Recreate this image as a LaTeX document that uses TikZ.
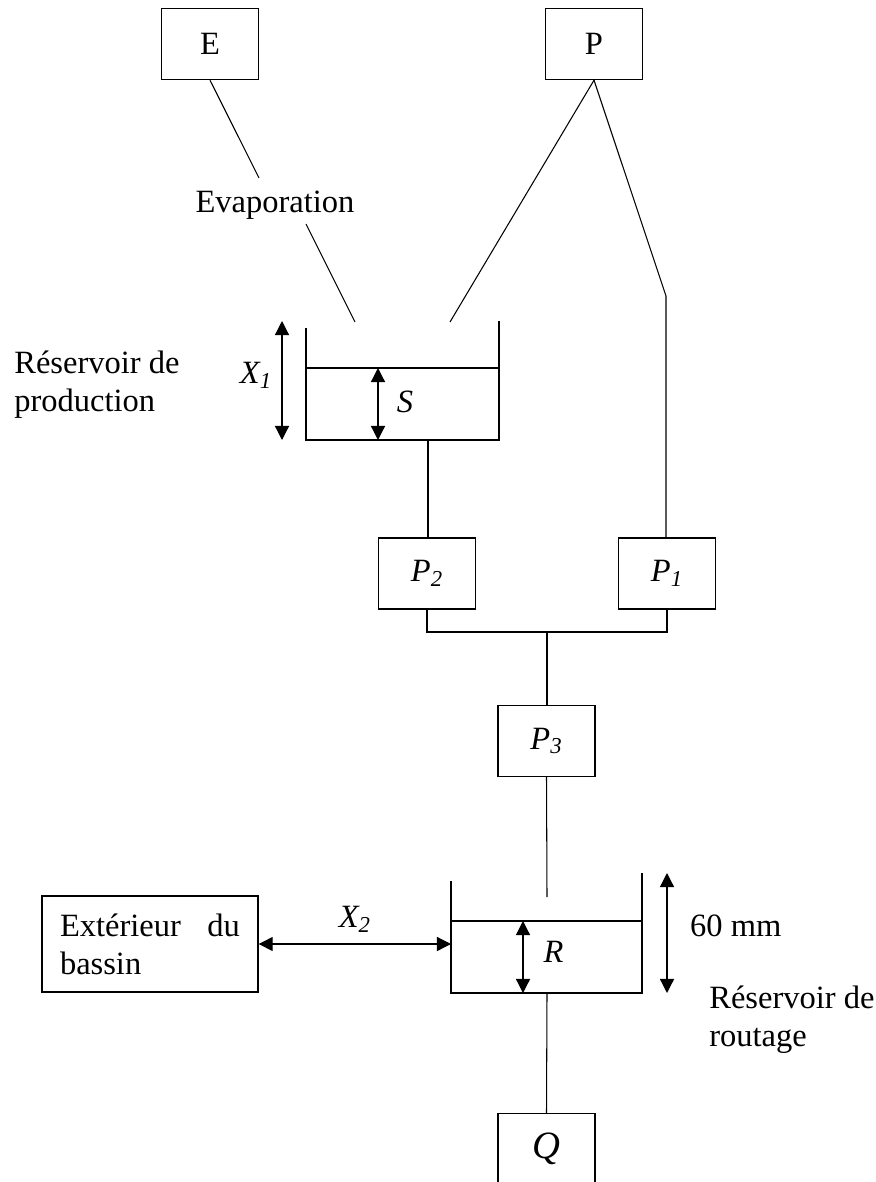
\documentclass[tikz,border=0pt]{standalone}
\usepackage{fontspec}
\setmainfont{Liberation Serif}
\usetikzlibrary{positioning}
\usetikzlibrary{arrows.meta}

\begin{document}
\begin{tikzpicture}[x=0.02cm,y=-0.02cm,
  box/.style={draw,line width=0.8pt,inner sep=0pt,minimum width=1.94cm,minimum height=1.42cm,font=\fontsize{18.5}{18}\selectfont},
  lbl/.style={font=\fontsize{18.5}{21.5}\selectfont},
  var/.style={font=\fontsize{18.5}{18}\selectfont\itshape},
  wall/.style={line width=0.7pt},
  pipe/.style={line width=0.6pt},
  dim/.style={{Triangle[width=8pt,length=8pt]}-{Triangle[width=8pt,length=8pt]},line width=0.7pt}]
\useasboundingbox (0,0) rectangle (875,1182);

% inputs
\node[box] (E) at (210,44) {E};
\node[box] (P) at (594,44) {P};
\node[lbl] (evap) at (275,205) {Evaporation};

% production reservoir
\coordinate (s-lt) at (306,328);
\coordinate (s-lb) at (306,440);
\coordinate (s-rb) at (499,440);
\coordinate (s-rt) at (499,321);
\coordinate (s-wl) at (306,368);
\coordinate (s-wr) at (499,368);
\coordinate (s-out) at (428,440);
\draw[wall] (s-lt) -- (s-lb) -- (s-rb) -- (s-rt);
\draw[wall] (s-wl) -- (s-wr);
\node[lbl,anchor=west,align=left,inner sep=0pt] (resprod) at (14,385) {Réservoir de\\production};

\coordinate (x1-t) at (282,321);
\coordinate (x1-b) at (282,440);
\draw[dim] (x1-t) -- (x1-b) node[midway,var,left=2pt,yshift=0.1cm] {X\textsubscript{1}};
\coordinate (s-t) at (378,368);
\coordinate (s-b) at (378,440);
\draw[dim] (s-t) -- (s-b) node[midway,var,right=7pt,yshift=0.05cm] {S};

% flows from E and P
\coordinate (ev1) at (259,178);
\coordinate (ev2) at (306,224);
\coordinate (ev3) at (355,322);
\coordinate (pr1) at (450,322);
\coordinate (pr2) at (666,296);
\draw[pipe] (E.south) -- (ev1);
\draw[pipe] (ev2) -- (ev3);
\draw[pipe] (P.south) -- (pr1);

% storage functions
\node[box,var] (P2) at (427,573.5) {P\textsubscript{2}};
\node[box,var] (P1) at (667,573.5) {P\textsubscript{1}};
\node[box,var] (P3) at (546.5,741) {P\textsubscript{3}};
\draw[pipe] (P.south) -- (pr2) -- (pr2 |- P1.north);
\draw[pipe] (s-out) -- (s-out |- P2.north);
\coordinate (jn) at (547,632);
\draw[pipe] (P2.south) |- (jn) -| (P1.south);
\draw[pipe] (jn) -- (jn |- P3.north);

% routing reservoir
\coordinate (r-lt) at (451,881);
\coordinate (r-lb) at (451,993);
\coordinate (r-rb) at (642,993);
\coordinate (r-rt) at (642,873);
\coordinate (r-wl) at (451,921);
\coordinate (r-wr) at (642,921);
\coordinate (r-in) at (547,897);
\coordinate (r-out) at (547,993);
\draw[wall] (r-lt) -- (r-lb) -- (r-rb) -- (r-rt);
\draw[wall] (r-wl) -- (r-wr);
\draw[pipe] (P3.south) -- (r-in);

\coordinate (r-t) at (523,921);
\coordinate (r-b) at (523,993);
\draw[dim] (r-t) -- (r-b) node[midway,var,right=8pt,yshift=0.1cm] {R};
\coordinate (h-t) at (667,873);
\coordinate (h-b) at (667,993);
\draw[dim] (h-t) -- (h-b);
\node[lbl,anchor=west] (haut) at (684,926) {60 mm};
\node[lbl,anchor=west,align=left,inner sep=0pt] (resrout) at (709,1020) {Réservoir de\\routage};

% exchanges and outlet
\node[box,minimum width=4.32cm,minimum height=1.92cm,align=left,text width=3.6cm,
  font=\fontsize{18.5}{21.5}\selectfont] (ext) at (150,944) {Extérieur \hfill du\\bassin};
\coordinate (x2-r) at (451,944);
\draw[dim] (ext.east |- x2-r) -- (x2-r) node[midway,var,above=3pt] {X\textsubscript{2}};
\node[box,var,font=\fontsize{22}{24}\selectfont\itshape] (Q) at (546.5,1149) {Q};
\draw[pipe] (r-out) -- (Q.north);
\end{tikzpicture}
\end{document}
